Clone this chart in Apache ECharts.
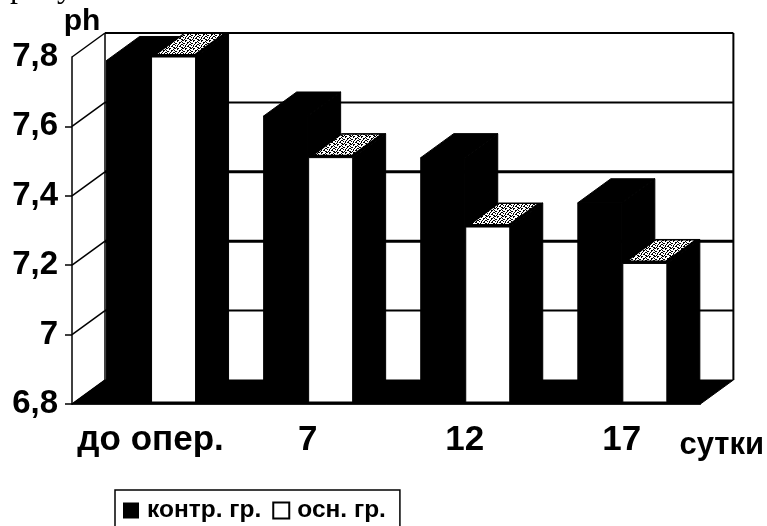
<!DOCTYPE html>
<html>
<head>
<meta charset="utf-8">
<style>
  html, body { margin: 0; padding: 0; background: #fff; }
  #chart { width: 767px; height: 526px; }
</style>
<script src="https://cdn.jsdelivr.net/npm/echarts@6/dist/echarts.min.js"></script>
</head>
<body>
<div id="chart"></div>
<script>
const categories = ['до опер.', '7', '12', '17'];
const controlValues = [7.79, 7.63, 7.51, 7.38];
const mainValues = [7.8, 7.51, 7.31, 7.205];
const yTicks = [6.8, 7, 7.2, 7.4, 7.6, 7.8];
const seriesNames = ['контр. гр.', 'осн. гр.'];

const DX = 33;   // 3d depth of the plot
const DY = 24;
const BAR_W = 44;
const FONT = '"Liberation Sans", Arial, sans-serif';

// dither for the top faces of the white bars
const ditherRows = ['01100011', '01000100', '00011010', '10010001', '00100110', '01001001', '01011000', '10000110'];
const dither = document.createElement('canvas');
dither.width = dither.height = 8;
const dctx = dither.getContext('2d');
dctx.fillStyle = '#fff';
dctx.fillRect(0, 0, 8, 8);
dctx.fillStyle = '#000';
ditherRows.forEach((row, y) => {
    row.split('').forEach((c, x) => {
        if (c === '1') dctx.fillRect(x, y, 1, 1);
    });
});

function poly(points, fill) {
    return {
        type: 'polygon',
        shape: { points: points },
        style: { fill: fill, stroke: '#000', lineWidth: 1 }
    };
}

function line(x1, y1, x2, y2, width) {
    return {
        type: 'line',
        shape: { x1: x1, y1: y1, x2: x2, y2: y2 },
        style: { stroke: '#000', lineWidth: width }
    };
}

// walls, floor and the gridlines on the back wall
function renderWalls(params, api) {
    const x0 = params.coordSys.x;
    const x1 = x0 + params.coordSys.width;
    const base = api.coord([0, yTicks[0]])[1];
    const top = api.coord([0, yTicks[yTicks.length - 1]])[1];
    const children = [];
    yTicks.forEach((t) => {
        const y = api.coord([0, t])[1];
        const w = (t === 7.4 || t === 7.2) ? 3 : 2;
        if (t !== yTicks[0]) children.push(line(x0 + DX, y - DY, x1 + DX, y - DY, w));
        children.push(line(x0, y, x0 + DX, y - DY, 1.5));
    });
    children.push(line(x0 + DX, top - DY, x0 + DX, base - DY, 1.5));
    children.push(line(x1 + DX, top - DY, x1 + DX, base - DY, 2));
    children.push(poly([[x0, base], [x0 + DX, base - DY], [x1 + DX, base - DY], [x1, base]], '#000'));
    return { type: 'group', children: children };
}

function renderBar(offset, light) {
    return function (params, api) {
        const cat = api.value(0);
        const p = api.coord([cat, api.value(1)]);
        const base = api.coord([cat, yTicks[0]])[1];
        const l = p[0] + offset;
        const r = l + BAR_W;
        const y = p[1];
        const children = [
            poly([[l, y], [l + DX, y - DY], [r + DX, y - DY], [r, y]], '#000'),
            poly([[r, y], [r + DX, y - DY], [r + DX, base - DY], [r, base - 2]], '#000'),
            poly([[l, y], [r, y], [r, base - 2], [l, base - 2]], light ? '#fff' : '#000')
        ];
        if (light) {
            children.push({
                type: 'polygon',
                shape: { points: [[l + 6, y - 3], [r - 1, y - 3], [r + 27, y - DY + 1], [l + 33, y - DY + 1]] },
                style: { fill: { image: dither, repeat: 'repeat' } }
            });
        }
        return { type: 'group', children: children };
    };
}

const chart = echarts.init(document.getElementById('chart'), null, { renderer: 'canvas' });

chart.setOption({
    animation: false,
    backgroundColor: '#fff',
    textStyle: { fontFamily: FONT },
    grid: { left: 72, right: 64, top: 57, bottom: 122, containLabel: false },
    title: {
        text: 'рисунке 3.',
        left: 10,
        top: -27,
        padding: 0,
        textStyle: { fontFamily: '"Liberation Serif", serif', fontSize: 32, fontWeight: 'normal', color: '#000' }
    },
    legend: {
        left: 115,
        top: 490,
        data: seriesNames,
        orient: 'horizontal',
        icon: 'rect',
        itemWidth: 16,
        itemHeight: 16,
        itemGap: 11,
        padding: [8, 14, 20, 8],
        borderColor: '#000',
        borderWidth: 1.5,
        textStyle: { fontFamily: FONT, fontSize: 24.5, fontWeight: 'bold', color: '#000', padding: [0, 0, 0, 3] }
    },
    xAxis: {
        type: 'category',
        data: categories,
        boundaryGap: true,
        name: 'сутки',
        nameLocation: 'end',
        nameGap: -21,
        nameMoveOverlap: false,
        nameTextStyle: { fontFamily: FONT, fontSize: 31, fontWeight: 'bold', color: '#000', verticalAlign: 'top', padding: [26, 0, 0, 0] },
        axisLine: { lineStyle: { color: '#000', width: 1.5 } },
        axisTick: { alignWithLabel: false, length: 8, lineStyle: { color: '#000', width: 1.5 } },
        axisLabel: { interval: 0, fontFamily: FONT, fontSize: 35, fontWeight: 'bold', color: '#000', margin: 19 },
        splitLine: { show: false },
        z: 5
    },
    yAxis: {
        type: 'value',
        min: 6.8,
        max: 7.8,
        interval: 0.2,
        name: 'ph',
        nameLocation: 'end',
        nameGap: 20,
        nameTextStyle: { fontFamily: FONT, fontSize: 30, fontWeight: 'bold', color: '#000', padding: [0, 0, 0, 20] },
        axisLine: { show: true, lineStyle: { color: '#000', width: 1.5 } },
        axisTick: { show: true, length: 7, customValues: yTicks.slice(0, -1), lineStyle: { color: '#000', width: 1.5 } },
        axisLabel: {
            fontFamily: FONT, fontSize: 33, fontWeight: 'bold', color: '#000', margin: 14,
            formatter: (v) => String(+v.toFixed(1)).replace('.', ',')
        },
        splitLine: { show: false }
    },
    series: [
        {
            type: 'custom',
            silent: true,
            renderItem: renderWalls,
            data: [[0, yTicks[0]]],
            encode: { x: 0, y: 1 },
            z: 1
        },
        {
            name: seriesNames[0],
            type: 'custom',
            renderItem: renderBar(-BAR_W, false),
            itemStyle: { color: '#000' },
            data: categories.map((c, i) => [i, controlValues[i]]),
            encode: { x: 0, y: 1 },
            z: 2
        },
        {
            name: seriesNames[1],
            type: 'custom',
            renderItem: renderBar(1, true),
            itemStyle: { color: '#fff', borderColor: '#000', borderWidth: 1 },
            data: categories.map((c, i) => [i, mainValues[i]]),
            encode: { x: 0, y: 1 },
            z: 3
        }
    ]
});
</script>
</body>
</html>
